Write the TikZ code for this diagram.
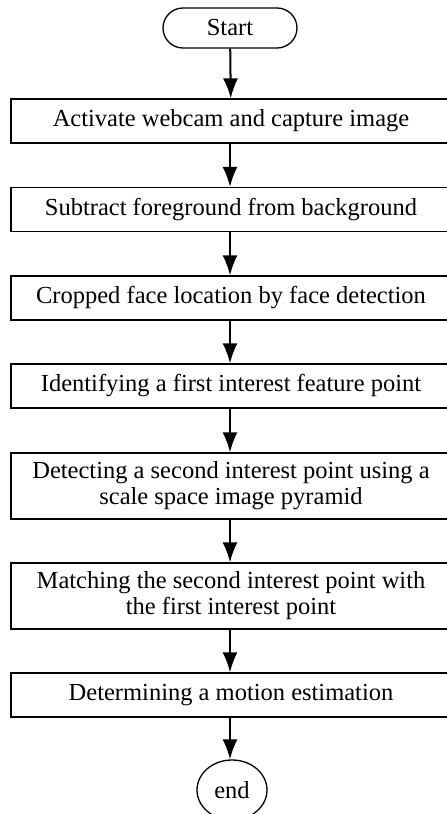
\documentclass[tikz,border=0pt]{standalone}
\usepackage{fontspec}
\setmainfont{Liberation Serif}
\usetikzlibrary{arrows.meta,shapes.geometric}

\tikzset{
    stepbox/.style={draw,line width=1.3pt,minimum width=440pt,align=center,
        font=\fontsize{24.5}{26}\selectfont,inner sep=0pt},
    flowarrow/.style={line width=2pt,-{Latex[length=20pt,width=15pt]}}
}

\begin{document}
\begin{tikzpicture}[x=1pt,y=-1pt]
    \useasboundingbox (0,0) rectangle (447,814);

    \node[draw,line width=1.3pt,rounded corners=20pt,minimum width=134pt,minimum height=40pt,
        font=\fontsize{24.5}{26}\selectfont] (start) at (230,28) {Start};

    \node[stepbox,minimum height=44pt] (webcam) at (231,121) {Activate webcam and capture image};
    \node[stepbox,minimum height=44pt] (subtract) at (231,209.5) {Subtract foreground from background};
    \node[stepbox,minimum height=44pt] (crop) at (231,298) {Cropped face location by face detection};
    \node[stepbox,minimum height=44pt] (first) at (231,386) {Identifying a first interest feature point};
    \node[stepbox,minimum height=66pt] (second) at (231,486) {Detecting a second interest point using a\\scale space image pyramid};
    \node[stepbox,minimum height=66pt] (match) at (231,596) {Matching the second interest point with\\the first interest point};
    \node[stepbox,minimum height=44pt] (motion) at (231,695) {Determining a motion estimation};

    \node[draw,ellipse,line width=1.3pt,minimum width=70pt,minimum height=60pt,inner sep=0pt,
        font=\fontsize{24.5}{26}\selectfont] (end) at (232,790) {end};

    \draw[flowarrow] (start) -- (webcam);
    \draw[flowarrow] (webcam.south -| start) -- (subtract.north -| start);
    \draw[flowarrow] (subtract.south -| start) -- (crop.north -| start);
    \draw[flowarrow] (crop.south -| start) -- (first.north -| start);
    \draw[flowarrow] (first.south -| start) -- (second.north -| start);
    \draw[flowarrow] (second.south -| start) -- (match.north -| start);
    \draw[flowarrow] (match.south -| start) -- (motion.north -| start);
    \draw[flowarrow] (motion.south -| start) -- (end.north -| start);

\end{tikzpicture}
\end{document}
